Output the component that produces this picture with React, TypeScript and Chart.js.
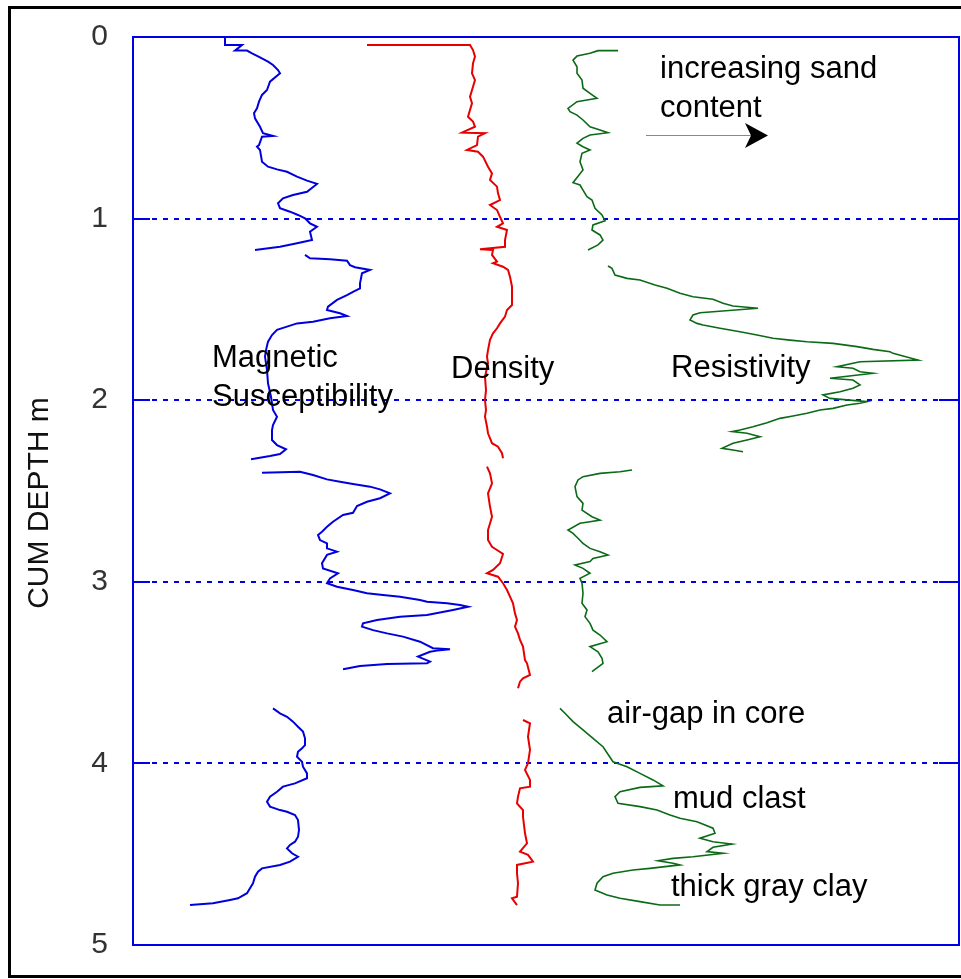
import React, { useEffect, useRef } from "react";
import { Chart, registerables } from "chart.js";

Chart.register(...registerables);

// [relative log value (arbitrary units), cumulative depth in m]
type Pt = [number, number];

const depthTicks: number[] = [0, 1, 2, 3, 4, 5];
const gridDepths: number[] = [1, 2, 3, 4];

// Magnetic susceptibility (blue)
const magneticA: Pt[] = [
  [9.2, 0.0], [9.2, 0.044], [10.9, 0.044], [10.2, 0.075], [11.4, 0.075], [11.9, 0.09], [12.7, 0.112],
  [13.5, 0.136], [14.0, 0.154], [14.5, 0.182], [14.7, 0.2], [13.7, 0.246], [13.4, 0.292], [12.9, 0.319],
  [12.6, 0.356], [12.4, 0.393], [12.1, 0.42], [12.2, 0.448], [12.7, 0.494], [13.0, 0.53], [14.0, 0.545],
  [12.9, 0.549], [12.6, 0.595], [12.4, 0.604], [12.7, 0.622], [12.9, 0.687], [13.5, 0.714], [14.4, 0.729],
  [15.4, 0.742], [16.4, 0.769], [17.4, 0.791], [18.4, 0.809], [17.4, 0.852], [16.0, 0.87], [15.0, 0.888],
  [14.5, 0.916], [14.7, 0.943], [15.7, 0.962], [16.5, 0.98], [17.2, 0.998], [17.7, 1.026], [18.4, 1.045],
  [17.7, 1.072], [17.9, 1.118], [16.4, 1.136], [14.7, 1.155], [12.2, 1.173],
];
const magneticB: Pt[] = [
  [17.2, 1.2], [17.7, 1.219], [19.7, 1.224], [21.4, 1.232], [21.7, 1.256], [22.2, 1.268], [23.7, 1.283],
  [22.9, 1.301], [22.7, 1.356], [22.7, 1.384], [22.0, 1.403], [21.4, 1.421], [20.4, 1.448], [19.5, 1.485],
  [19.4, 1.503], [20.7, 1.521], [21.4, 1.536], [19.7, 1.549], [18.0, 1.568], [16.4, 1.577], [15.4, 1.595],
  [14.4, 1.613], [13.9, 1.641], [13.5, 1.678], [13.3, 1.724], [13.2, 1.76], [13.4, 1.834], [13.5, 1.907],
  [13.8, 1.981], [14.0, 2.054], [14.4, 2.091], [14.0, 2.137], [13.9, 2.164], [13.9, 2.219], [14.4, 2.247],
  [15.3, 2.27], [14.7, 2.296], [13.7, 2.307], [11.8, 2.325],
];
const magneticC: Pt[] = [
  [12.9, 2.399], [16.7, 2.394], [18.0, 2.412], [19.4, 2.436], [20.7, 2.449], [22.0, 2.461], [23.7, 2.476],
  [24.7, 2.491], [25.7, 2.513], [24.7, 2.54], [23.4, 2.559], [22.4, 2.583], [22.0, 2.62], [21.0, 2.632],
  [20.0, 2.669], [19.4, 2.697], [18.9, 2.724], [18.5, 2.742], [18.7, 2.77], [19.4, 2.788], [19.4, 2.816],
  [20.4, 2.834], [19.4, 2.852], [18.9, 2.898], [19.0, 2.926], [20.5, 2.953], [19.7, 2.981], [19.4, 3.008],
  [20.4, 3.027], [22.0, 3.045], [23.4, 3.063], [25.0, 3.073], [26.7, 3.082], [28.7, 3.1], [29.4, 3.11],
  [31.4, 3.118], [32.7, 3.128], [33.5, 3.137], [32.0, 3.155], [29.4, 3.183], [26.7, 3.192], [24.4, 3.21],
  [23.0, 3.229], [22.9, 3.247], [24.0, 3.266], [25.4, 3.284], [27.0, 3.302], [28.7, 3.33], [30.0, 3.366],
  [31.7, 3.372], [30.4, 3.379], [29.7, 3.385], [28.5, 3.412], [29.7, 3.44], [29.4, 3.449], [25.4, 3.453],
  [22.7, 3.464], [21.0, 3.482],
];
const magneticD: Pt[] = [
  [14.0, 3.697], [14.7, 3.724], [15.4, 3.743], [16.0, 3.77], [16.5, 3.798], [17.0, 3.825], [17.2, 3.862],
  [17.2, 3.899], [16.9, 3.917], [16.5, 3.936], [16.4, 3.963], [16.9, 3.991], [17.0, 4.018], [17.4, 4.055],
  [17.4, 4.082], [16.2, 4.11], [15.0, 4.128], [14.4, 4.156], [13.7, 4.183], [13.4, 4.211], [13.7, 4.238],
  [14.7, 4.257], [15.4, 4.266], [16.2, 4.284], [16.5, 4.312], [16.6, 4.367], [16.5, 4.404], [16.2, 4.431],
  [15.7, 4.449], [15.4, 4.468], [15.9, 4.495], [16.5, 4.514], [15.7, 4.541], [14.7, 4.559], [12.9, 4.578],
  [12.5, 4.596], [12.2, 4.624], [12.0, 4.66], [11.7, 4.688], [11.4, 4.715], [10.5, 4.743], [9.7, 4.752],
  [8.0, 4.77], [5.7, 4.78],
];

// Density (red)
const densityA: Pt[] = [
  [23.4, 0.044], [33.7, 0.044], [34.0, 0.072], [34.2, 0.108], [34.0, 0.145], [33.9, 0.2], [34.2, 0.237],
  [34.0, 0.274], [33.7, 0.329], [33.9, 0.365], [33.5, 0.439], [34.0, 0.466], [34.2, 0.494], [32.9, 0.527],
  [35.2, 0.53], [34.5, 0.549], [34.4, 0.595], [33.4, 0.622], [34.5, 0.632], [35.0, 0.659], [35.5, 0.714],
  [35.9, 0.751], [35.7, 0.787], [36.4, 0.824], [36.5, 0.861], [36.7, 0.898], [35.7, 0.925], [36.4, 0.953],
  [36.7, 0.99], [37.0, 1.026], [36.4, 1.045], [37.4, 1.063], [37.2, 1.118], [37.2, 1.155], [34.7, 1.169],
  [36.0, 1.173], [35.9, 1.2], [36.4, 1.237], [36.0, 1.246], [37.0, 1.265], [37.5, 1.283], [37.7, 1.32],
  [37.9, 1.375], [37.9, 1.476], [37.4, 1.503], [37.2, 1.54], [36.7, 1.577], [36.4, 1.604], [36.0, 1.632],
  [35.7, 1.668], [35.5, 1.724], [35.4, 1.76], [35.5, 1.797], [35.2, 1.871], [35.3, 1.944], [35.2, 1.999],
  [35.3, 2.054], [35.2, 2.091], [35.4, 2.146], [35.5, 2.182], [35.9, 2.237], [36.5, 2.256], [36.9, 2.292],
  [37.0, 2.32],
];
const densityB: Pt[] = [
  [35.4, 2.366], [35.7, 2.403], [35.9, 2.458], [35.5, 2.513], [35.7, 2.586], [35.9, 2.642], [35.5, 2.715],
  [35.5, 2.77], [35.9, 2.807], [36.4, 2.825], [37.0, 2.847], [36.7, 2.898], [36.0, 2.935], [35.4, 2.953],
  [36.5, 2.972], [37.0, 3.008], [37.4, 3.045], [37.7, 3.082], [38.0, 3.118], [38.2, 3.174], [38.4, 3.21],
  [38.2, 3.247], [38.5, 3.284], [38.7, 3.32], [39.0, 3.357], [39.2, 3.431], [39.4, 3.449], [39.7, 3.513],
  [39.0, 3.531], [38.7, 3.55], [38.5, 3.586],
];
const densityC: Pt[] = [
  [39.0, 3.761], [39.7, 3.779], [39.5, 3.853], [39.7, 3.925], [39.5, 3.999], [39.2, 4.036], [39.7, 4.091],
  [39.7, 4.128], [38.7, 4.137], [38.5, 4.183], [38.4, 4.22], [39.0, 4.257], [39.0, 4.294], [39.2, 4.385],
  [39.4, 4.44], [38.7, 4.486], [39.5, 4.504], [40.0, 4.541], [38.4, 4.559], [38.4, 4.605], [38.5, 4.66],
  [38.4, 4.734], [37.9, 4.743], [38.4, 4.78],
];

// Resistivity (green)
const resistivityA: Pt[] = [
  [48.5, 0.075], [46.5, 0.075], [45.7, 0.09], [44.4, 0.105], [44.0, 0.127], [44.4, 0.164], [44.4, 0.2],
  [44.9, 0.237], [45.0, 0.282], [45.7, 0.31], [46.4, 0.338], [45.4, 0.347], [44.4, 0.356], [43.5, 0.393],
  [43.7, 0.411], [44.4, 0.43], [45.0, 0.457], [45.7, 0.494], [46.7, 0.512], [47.5, 0.527], [45.7, 0.54],
  [45.0, 0.558], [44.4, 0.585], [45.0, 0.604], [45.7, 0.622], [44.9, 0.64], [44.7, 0.687], [45.0, 0.732],
  [44.0, 0.802], [44.7, 0.815], [45.0, 0.843], [45.4, 0.879], [45.9, 0.898], [46.2, 0.943], [46.9, 0.98],
  [47.2, 1.012], [46.0, 1.035], [45.9, 1.063], [46.7, 1.09], [47.0, 1.118], [46.5, 1.145], [45.5, 1.173],
];
const resistivityB: Pt[] = [
  [47.5, 1.261], [47.9, 1.274], [48.2, 1.311], [49.4, 1.329], [50.7, 1.338], [52.2, 1.366], [53.4, 1.384],
  [54.7, 1.411], [56.0, 1.43], [58.0, 1.444], [59.0, 1.466], [60.0, 1.481], [62.5, 1.494], [58.0, 1.513],
  [56.7, 1.518], [56.0, 1.531], [55.7, 1.558], [56.4, 1.577], [57.0, 1.586], [58.7, 1.604], [60.7, 1.623],
  [62.4, 1.641], [64.0, 1.659], [65.7, 1.669], [67.4, 1.678], [70.0, 1.687], [72.4, 1.705], [74.0, 1.72],
  [75.7, 1.733], [76.0, 1.742], [78.5, 1.779], [72.7, 1.788], [72.0, 1.797], [70.4, 1.816], [72.0, 1.824],
  [72.7, 1.843], [74.0, 1.852], [69.7, 1.879], [72.0, 1.889], [72.7, 1.916], [72.0, 1.934], [70.7, 1.953],
  [69.0, 1.971], [69.7, 1.99], [73.4, 2.008], [72.7, 2.017], [71.4, 2.026], [70.0, 2.045], [68.7, 2.054],
  [67.4, 2.072], [66.0, 2.087], [64.7, 2.1], [63.4, 2.124], [62.0, 2.146], [60.7, 2.164], [59.9, 2.173],
  [61.4, 2.182], [62.7, 2.201], [61.4, 2.219], [60.0, 2.237], [58.9, 2.265], [60.0, 2.274], [61.0, 2.284],
];
const resistivityC: Pt[] = [
  [49.9, 2.384], [48.7, 2.394], [46.7, 2.403], [45.0, 2.421], [44.5, 2.439], [44.2, 2.476], [44.4, 2.531],
  [45.0, 2.568], [44.9, 2.605], [45.9, 2.642], [46.7, 2.66], [45.7, 2.669], [44.7, 2.678], [43.5, 2.715],
  [44.0, 2.733], [44.5, 2.76], [45.0, 2.788], [45.7, 2.816], [46.7, 2.834], [47.5, 2.852], [46.0, 2.871],
  [45.7, 2.889], [44.2, 2.907], [45.0, 2.926], [45.7, 2.953], [44.7, 2.981], [44.9, 3.008], [45.0, 3.063],
  [44.9, 3.118], [45.4, 3.155], [45.2, 3.192], [45.7, 3.229], [46.0, 3.266], [46.7, 3.293], [47.4, 3.33],
  [45.7, 3.357], [46.5, 3.385], [46.9, 3.421], [47.0, 3.449], [45.9, 3.495],
];
const resistivityD: Pt[] = [
  [42.7, 3.697], [43.2, 3.724], [44.0, 3.77], [45.0, 3.816], [46.0, 3.862], [47.0, 3.908], [48.0, 3.991],
  [49.4, 4.018], [50.7, 4.055], [52.0, 4.091], [53.0, 4.124], [50.7, 4.132], [48.7, 4.156], [48.2, 4.183],
  [48.5, 4.22], [50.7, 4.238], [52.4, 4.257], [53.7, 4.284], [54.7, 4.302], [56.4, 4.321], [58.0, 4.357],
  [58.2, 4.385], [56.7, 4.412], [58.0, 4.431], [59.9, 4.444], [58.0, 4.462], [57.4, 4.486], [59.0, 4.495],
  [56.0, 4.514], [54.0, 4.523], [52.5, 4.536], [54.0, 4.55], [54.7, 4.559], [51.7, 4.578], [50.0, 4.587],
  [48.0, 4.605], [47.0, 4.624], [46.4, 4.66], [46.2, 4.697], [47.4, 4.725], [48.7, 4.743], [50.7, 4.761],
  [52.7, 4.78], [54.7, 4.78],
];

const BLUE = "#0000dd";
const RED = "#e80000";
const GREEN = "#0b6a16";
const FRAME = "#0000e6";
const FONT = "'Liberation Sans', Arial, Helvetica, sans-serif";

const series: { name: string; color: string; width: number; segments: Pt[][] }[] = [
  { name: "Magnetic Susceptibility", color: BLUE, width: 2, segments: [magneticA, magneticB, magneticC, magneticD] },
  { name: "Density", color: RED, width: 2, segments: [densityA, densityB, densityC] },
  { name: "Resistivity", color: GREEN, width: 1.6, segments: [resistivityA, resistivityB, resistivityC, resistivityD] },
];

const decorPlugin = {
  id: "decor",
  beforeDatasetsDraw(chart: any) {
    const { ctx, chartArea: a, scales } = chart;
    const y = scales.y;
    ctx.save();
    ctx.strokeStyle = FRAME;
    ctx.lineWidth = 2;
    gridDepths.forEach((d) => {
      const py = Math.round(y.getPixelForValue(d));
      ctx.setLineDash([5, 6]);
      ctx.beginPath();
      ctx.moveTo(a.left + 19, py);
      ctx.lineTo(a.right - 20, py);
      ctx.stroke();
      ctx.setLineDash([]);
      ctx.beginPath();
      ctx.moveTo(a.left, py);
      ctx.lineTo(a.left + 17, py);
      ctx.moveTo(a.right - 20, py);
      ctx.lineTo(a.right, py);
      ctx.stroke();
    });
    ctx.restore();
  },
  afterDatasetsDraw(chart: any) {
    const { ctx, chartArea: a } = chart;
    ctx.save();
    // plot frame
    ctx.strokeStyle = FRAME;
    ctx.lineWidth = 2;
    ctx.strokeRect(a.left, a.top, a.right - a.left, a.bottom - a.top);
    // outer black border
    ctx.strokeStyle = "#000";
    ctx.lineWidth = 3;
    ctx.strokeRect(9.5, 7.5, 960, 969);
    // axis title
    ctx.fillStyle = "#111";
    ctx.font = `30px ${FONT}`;
    ctx.textAlign = "center";
    ctx.textBaseline = "middle";
    ctx.translate(40, 503);
    ctx.rotate(-Math.PI / 2);
    ctx.fillText("CUM DEPTH m", 0, 0);
    ctx.restore();

    ctx.save();
    ctx.fillStyle = "#000";
    ctx.font = `31px ${FONT}`;
    ctx.textAlign = "left";
    ctx.textBaseline = "alphabetic";
    const L = a.left;
    const T = a.top;
    const labels: [string, number, number][] = [
      ["Magnetic", 79, 330],
      ["Susceptibility", 79, 369],
      ["Density", 318, 341],
      ["Resistivity", 538, 340],
      ["increasing sand", 527, 41],
      ["content", 527, 80],
      ["air-gap in core", 474, 686],
      ["mud clast", 540, 771],
      ["thick gray clay", 538, 859],
    ];
    labels.forEach(([t, dx, dy]) => ctx.fillText(t, L + dx, T + dy));
    // arrow
    ctx.strokeStyle = "#888";
    ctx.lineWidth = 1.2;
    ctx.beginPath();
    ctx.moveTo(L + 513, T + 98.5);
    ctx.lineTo(L + 622, T + 98.5);
    ctx.stroke();
    ctx.fillStyle = "#000";
    ctx.beginPath();
    ctx.moveTo(L + 635, T + 98.5);
    ctx.lineTo(L + 612, T + 86);
    ctx.lineTo(L + 618, T + 98.5);
    ctx.lineTo(L + 612, T + 111);
    ctx.closePath();
    ctx.fill();
    ctx.restore();
  },
};

export default function App() {
  const canvasRef = useRef<HTMLCanvasElement | null>(null);

  useEffect(() => {
    if (!canvasRef.current) return;
    const datasets: any[] = [];
    series.forEach((s) => {
      s.segments.forEach((seg, i) => {
        datasets.push({
          label: `${s.name} ${i + 1}`,
          data: seg.map(([x, y]) => ({ x, y })),
          borderColor: s.color,
          backgroundColor: s.color,
          borderWidth: s.width,
          pointRadius: 0,
          showLine: true,
          fill: false,
          tension: 0,
        });
      });
    });

    const chart = new Chart(canvasRef.current, {
      type: "scatter",
      data: { datasets },
      options: {
        animation: false,
        responsive: false,
        devicePixelRatio: 1,
        layout: { padding: { left: 0, top: 37, right: 2, bottom: 34 } },
        plugins: { legend: { display: false }, tooltip: { enabled: false } },
        scales: {
          x: { type: "linear", min: 0, max: 82.6, display: false },
          y: {
            type: "linear",
            min: depthTicks[0],
            max: depthTicks[depthTicks.length - 1],
            reverse: true,
            position: "left",
            afterFit: (scale: any) => {
              scale.width = 133;
              scale.paddingTop = 0;
              scale.paddingBottom = 0;
            },
            afterBuildTicks: (scale: any) => {
              scale.ticks = depthTicks.map((v) => ({ value: v }));
            },
            grid: { display: false, drawTicks: false },
            border: { display: false },
            ticks: {
              padding: 25,
              color: "#333",
              font: { family: FONT, size: 30 },
              callback: (v: any) => String(v),
            },
          },
        },
      },
      plugins: [decorPlugin],
    });
    return () => chart.destroy();
  }, []);

  return (
    <div style={{ position: "absolute", left: 0, top: 0, width: 961, height: 979, background: "#fff" }}>
      <canvas ref={canvasRef} width={961} height={979} style={{ display: "block" }} />
    </div>
  );
}
